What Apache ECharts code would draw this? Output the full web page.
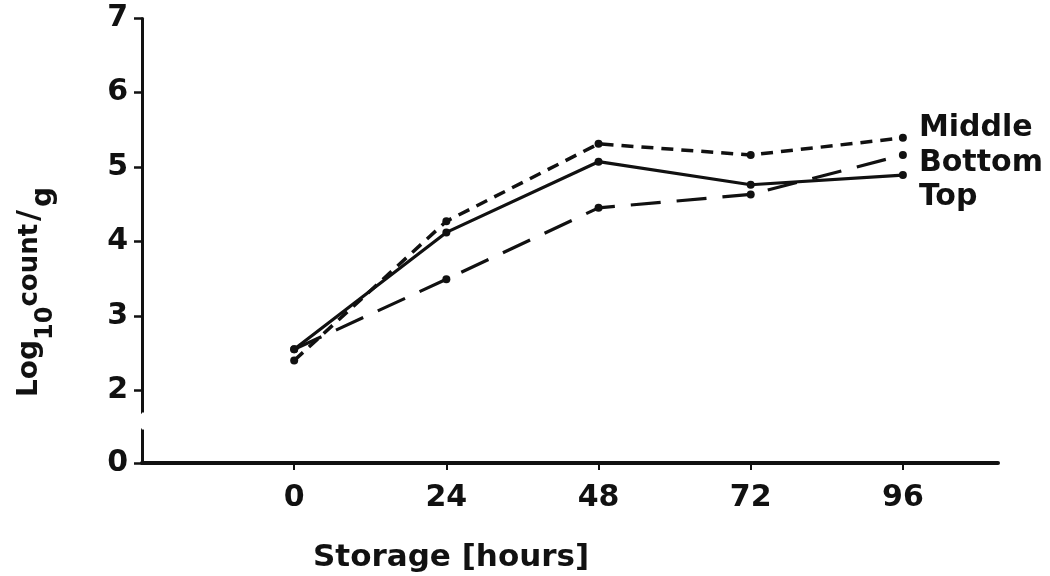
<!DOCTYPE html>
<html><head><meta charset="utf-8">
<script src="https://cdn.jsdelivr.net/npm/echarts@6/dist/echarts.min.js"></script>
<style>html,body{margin:0;padding:0;background:#fff}#c{width:1050px;height:576px}</style>
</head><body><div id="c"></div>
<script>
// ---- data ----
const hours = [0, 24, 48, 72, 96];
const middleVals = [2.40, 4.27, 5.31, 5.16, 5.39];
const bottomVals = [2.55, 3.49, 4.45, 4.63, 5.16];
const topVals = [2.55, 4.12, 5.07, 4.76, 4.89];
const seriesNames = ['Middle', 'Bottom', 'Top'];
const xTicks = [0, 24, 48, 72, 96];
const yTicks = [0, 2, 3, 4, 5, 6, 7];
const xTitle = 'Storage [hours]';

const FONT = 'DejaVu Sans';
const INK = '#111';
const pairs = vals => hours.map((h, i) => [h, vals[i]]);

const chart = echarts.init(document.getElementById('c'), null, {renderer: 'canvas'});
chart.setOption({
  animation: false,
  backgroundColor: '#fff',
  grid: {left: 142, right: 52, top: 18, bottom: 113, containLabel: false},
  title: {
    text: xTitle, left: 308, top: 537,
    textStyle: {fontFamily: FONT, fontWeight: 'bold', fontSize: 31, color: INK}
  },
  xAxis: {
    type: 'value', min: -24, max: 111,
    splitLine: {show: false},
    axisLine: {onZero: false, lineStyle: {color: INK, width: 4}},
    axisTick: {show: true, customValues: xTicks, length: 7, lineStyle: {color: INK, width: 2}},
    axisLabel: {customValues: xTicks, margin: 20, fontFamily: FONT, fontWeight: 'bold', fontSize: 30, color: INK}
  },
  yAxis: {
    type: 'value', min: 0, max: 7,
    breaks: [{start: 0.45, end: 1.7, gap: '3.8%'}],
    breakArea: {
      show: true, expandOnClick: false, zigzagAmplitude: 0,
      itemStyle: {color: '#fff', borderColor: '#fff', borderWidth: 0, opacity: 1}
    },
    splitLine: {show: false},
    axisLine: {show: true, onZero: false, lineStyle: {color: INK, width: 3}},
    axisTick: {show: true, customValues: yTicks, length: 8, lineStyle: {color: INK, width: 2.5}},
    axisLabel: {customValues: yTicks, margin: 14, fontFamily: FONT, fontWeight: 'bold', fontSize: 30, color: INK}
  },
  graphic: [{
    type: 'text', x: 30, y: 292, rotation: Math.PI / 2,
    style: {
      text: '{a|Log}{b|10}{c|count}{d|/}{e|g}',
      align: 'center', verticalAlign: 'middle', fill: INK,
      rich: {
        a: {fontFamily: FONT, fontWeight: 'bold', fontSize: 28, lineHeight: 56, verticalAlign: 'middle', fill: INK},
        b: {fontFamily: FONT, fontWeight: 'bold', fontSize: 24, lineHeight: 18, verticalAlign: 'bottom', fill: INK},
        c: {fontFamily: FONT, fontWeight: 'bold', fontSize: 26, lineHeight: 56, verticalAlign: 'middle', fill: INK},
        d: {fontFamily: FONT, fontWeight: 'bold', fontSize: 30, lineHeight: 56, verticalAlign: 'middle', padding: [0, 3, 0, 3], fill: INK},
        e: {fontFamily: FONT, fontWeight: 'bold', fontSize: 28, lineHeight: 18, verticalAlign: 'bottom', fill: INK}
      }
    }
  }],
  series: [
    {
      name: seriesNames[0], type: 'line', data: pairs(middleVals),
      symbol: 'circle', symbolSize: 8, itemStyle: {color: INK},
      lineStyle: {color: INK, width: 3.5, type: [12, 8]},
      endLabel: {show: true, formatter: '{a}', offset: [8, -10], fontFamily: FONT, fontWeight: 'bold', fontSize: 30, color: INK}
    },
    {
      name: seriesNames[1], type: 'line', data: pairs(bottomVals),
      symbol: 'circle', symbolSize: 8, itemStyle: {color: INK},
      lineStyle: {color: INK, width: 3.2, type: [30, 16]},
      endLabel: {show: true, formatter: '{a}', offset: [8, 8], fontFamily: FONT, fontWeight: 'bold', fontSize: 30, color: INK}
    },
    {
      name: seriesNames[2], type: 'line', data: pairs(topVals),
      symbol: 'circle', symbolSize: 8, itemStyle: {color: INK},
      lineStyle: {color: INK, width: 3.2, type: 'solid'},
      endLabel: {show: true, formatter: '{a}', offset: [8, 22], fontFamily: FONT, fontWeight: 'bold', fontSize: 30, color: INK}
    }
  ]
});
</script></body></html>
